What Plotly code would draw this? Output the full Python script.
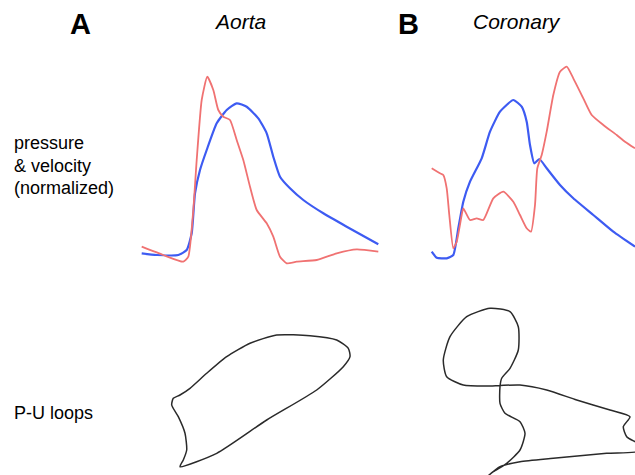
import plotly.graph_objects as go

# ---- Panel A (Aorta): pressure & velocity, normalized units ----
aorta_p_t = [1.7, 23.3, 43.3, 48.3, 53.3, 56.7, 61.7, 67.3, 73.3, 78.3, 83.3, 90, 96.7, 103.3,
             110, 116.7, 126.7, 133.3, 140, 146.7, 156.7, 176.7, 196.7, 216.7, 238.3]
aorta_p = [18.3, 10, 3.3, 8.3, 55, 105, 165, 188.3, 175, 155, 148.3, 145, 125, 105,
           78.3, 55, 41.7, 28.3, 8.3, 1.7, 3.3, 5, 11.7, 15.7, 13.3]

aorta_u_t = [1.7, 16.7, 38.3, 46.7, 51.7, 55, 60, 66.7, 76.7, 86.7, 96.7, 106.7, 118.3, 126.7,
             133.3, 140, 150, 163.3, 183.3, 206.7, 238.3]
aorta_u = [11.7, 10, 10, 15, 31.7, 71.7, 95, 115, 141.7, 155, 161.7, 158.3, 146.7, 131.7,
           108.3, 88.3, 76.7, 65, 51.7, 38.3, 20.7]

# ---- Panel B (Coronary) ----
coro_p_t = [1.7, 10, 13.3, 16.7, 19.3, 23.3, 26.7, 31.7, 33.3, 40, 46.7, 53.3, 63.3, 73.3,
            83.3, 90, 96.7, 101, 105, 107.3, 111.7, 116.7, 123.3, 130, 136.7, 143.3, 153.3,
            161.7, 173.3, 186.7, 195, 205]
coro_p = [93.7, 88.7, 87, 73.7, 47, 13.7, 20.3, 47, 53.7, 42, 43.7, 42, 63.7, 70.3,
          60.3, 47, 33.7, 30.3, 57, 93.7, 107, 130.3, 167, 190.3, 195.3, 183.7, 163.7,
          147, 137, 127, 120.3, 113.7]

coro_u_t = [1.7, 6.7, 16.7, 23.3, 28.3, 33.3, 40, 51.7, 60, 70, 83.3, 91.7, 96.7, 100,
            104.3, 109.3, 116.7, 130, 143.3, 163.3, 183.3, 205]
coro_u = [10.3, 4.3, 3.7, 7, 33.7, 60.3, 80.3, 103.7, 130.3, 150.3, 162, 155.3, 140.3, 117,
          98.7, 103, 93.7, 77, 63.7, 47, 30.3, 15.3]

# ---- P-U loops ----
aorta_loop_u = [10, 46.7, 96.7, 146.7, 173.3, 180, 178.3, 166.7, 140, 106.7, 80, 56.7, 36.7,
                20, 10, 3.3, 1.7, 8.3, 15, 16.7, 13.3, 10]
aorta_loop_p = [3.3, 16.7, 50, 80, 103.3, 113.3, 121.7, 130, 134.3, 135, 126.7, 113.3, 96.7,
                81.7, 75, 71.7, 65, 53.3, 36.7, 20, 10, 3.3]

coro_loop_u = [46.7, 53.3, 66.7, 80, 85, 80, 65, 60, 60, 61.7, 70, 78.3, 78.3, 70, 50, 26.7,
               10, 3.3, 6.7, 23.3, 46.7, 60, 80, 106.7, 136.7, 170, 190, 183.3, 186.7, 200,
               200, 166.7, 113.3, 80, 60, 48]
coro_loop_p = [-2, 3.3, 11.7, 25, 41.7, 53.3, 61.7, 71.7, 88.3, 96.7, 106.7, 125, 148.3, 163.3,
               166.7, 158.3, 138.3, 115, 98.3, 90, 89, 89.5, 90, 85, 75, 65, 58.3, 48.3, 38.3,
               30, 24, 21.7, 16.7, 13.3, 8.3, -1]

RED = "#f07272"
BLUE = "#3d5bf2"
DARK = "#2a2a2a"
W, H = 635, 475


def px_x(a, b):
    return [a / W, b / W]


def px_y(top, bottom):
    return [1 - bottom / H, 1 - top / H]


fig = go.Figure()

curve_line = dict(shape="spline", smoothing=0.5)
fig.add_trace(go.Scatter(x=aorta_u_t, y=aorta_u, mode="lines",
                         line=dict(color=BLUE, width=2.2, **curve_line), xaxis="x", yaxis="y"))
fig.add_trace(go.Scatter(x=aorta_p_t, y=aorta_p, mode="lines",
                         line=dict(color=RED, width=1.8, **curve_line), xaxis="x", yaxis="y"))
fig.add_trace(go.Scatter(x=coro_u_t, y=coro_u, mode="lines",
                         line=dict(color=BLUE, width=2.2, **curve_line), xaxis="x2", yaxis="y2"))
fig.add_trace(go.Scatter(x=coro_p_t, y=coro_p, mode="lines",
                         line=dict(color=RED, width=1.8, **curve_line), xaxis="x2", yaxis="y2"))
fig.add_trace(go.Scatter(x=aorta_loop_u, y=aorta_loop_p, mode="lines",
                         line=dict(color=DARK, width=1.5, shape="spline", smoothing=0.6),
                         xaxis="x3", yaxis="y3"))
fig.add_trace(go.Scatter(x=coro_loop_u, y=coro_loop_p, mode="lines",
                         line=dict(color=DARK, width=1.5, shape="spline", smoothing=0.6),
                         xaxis="x4", yaxis="y4"))

hidden = dict(visible=False, showgrid=False, zeroline=False, fixedrange=True)

fig.update_layout(
    width=W, height=H,
    margin=dict(l=0, r=0, t=0, b=0),
    paper_bgcolor="white", plot_bgcolor="white",
    showlegend=False,
    xaxis=dict(domain=px_x(140, 380), range=[0, 240], anchor="y", **hidden),
    yaxis=dict(domain=px_y(75, 265), range=[0, 190], anchor="x", **hidden),
    xaxis2=dict(domain=px_x(430, 635), range=[0, 205], anchor="y2", **hidden),
    yaxis2=dict(domain=px_y(65, 262), range=[0, 197], anchor="x2", **hidden),
    xaxis3=dict(domain=px_x(170, 355), range=[0, 185], anchor="y3", **hidden),
    yaxis3=dict(domain=px_y(330, 470), range=[0, 140], anchor="x3", **hidden),
    xaxis4=dict(domain=px_x(440, 635), range=[0, 195], anchor="y4", **hidden),
    yaxis4=dict(domain=px_y(300, 475), range=[0, 175], anchor="x4", **hidden),
    font=dict(family="Arial, Liberation Sans, sans-serif", color="black"),
)


def label(text, x, y, size, bold=False, italic=False, xanchor="left"):
    if bold:
        text = f"<b>{text}</b>"
    if italic:
        text = f"<i>{text}</i>"
    fig.add_annotation(text=text, x=x / W, y=1 - y / H, xref="paper", yref="paper",
                       xanchor=xanchor, yanchor="middle", showarrow=False,
                       font=dict(size=size, color="black"))


label("A", 80, 24, 29, bold=True, xanchor="center")
label("Aorta", 240, 22, 21, italic=True, xanchor="center")
label("B", 408, 24, 29, bold=True, xanchor="center")
label("Coronary", 517, 22, 21, italic=True, xanchor="center")
label("pressure", 12, 143, 18)
label("&amp; velocity", 12, 166, 18)
label("(normalized)", 12, 188, 18)
label("P-U loops", 12, 413, 18)

fig.write_html("out.html", config={"displayModeBar": False},
               post_script="document.body.style.margin='0px';document.body.style.overflow='hidden';")
